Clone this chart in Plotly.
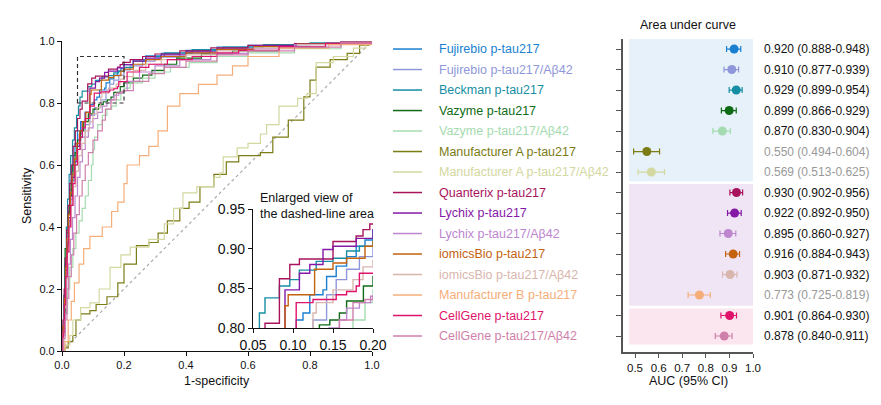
import plotly.graph_objects as go

# Assay names (legend / forest plot rows, top to bottom)
names = [
    "Fujirebio p-tau217", "Fujirebio p-tau217/Aβ42", "Beckman p-tau217",
    "Vazyme p-tau217", "Vazyme p-tau217/Aβ42", "Manufacturer A p-tau217",
    "Manufacturer A p-tau217/Aβ42", "Quanterix p-tau217", "Lychix p-tau217",
    "Lychix p-tau217/Aβ42", "iomicsBio p-tau217", "iomicsBio p-tau217/Aβ42",
    "Manufacturer B p-tau217", "CellGene p-tau217", "CellGene p-tau217/Aβ42",
]
colors = [
    "#1a7fd0", "#8f97da", "#168ea3", "#0f6b16", "#a5dbb0", "#7c7c14",
    "#d3d8a0", "#a8145c", "#8518a6", "#bd86cf", "#c4620f", "#d9b6ad",
    "#f5ae7a", "#e0136c", "#cf7fab",
]

# AUC with 95% CI
auc = [0.920, 0.910, 0.929, 0.899, 0.870, 0.550, 0.569, 0.930, 0.922, 0.895, 0.916, 0.903, 0.773, 0.901, 0.878]
auc_lo = [0.888, 0.877, 0.899, 0.866, 0.830, 0.494, 0.513, 0.902, 0.892, 0.860, 0.884, 0.871, 0.725, 0.864, 0.840]
auc_hi = [0.948, 0.939, 0.954, 0.929, 0.904, 0.604, 0.625, 0.956, 0.950, 0.927, 0.943, 0.932, 0.819, 0.930, 0.911]
auc_gray = [False, False, False, False, False, True, True, False, False, False, False, False, True, False, False]

# ROC curves (1-specificity, sensitivity)
fuji_fpr = [0, 0.003, 0.006, 0.01, 0.015, 0.02, 0.025, 0.03, 0.035, 0.042, 0.05, 0.06, 0.075, 0.09, 0.104, 0.1125, 0.121, 0.1375, 0.142, 0.154, 0.167, 0.179, 0.19, 0.2, 0.23, 0.27, 0.32, 0.4, 0.5, 0.6, 0.75, 0.9, 1.0]
fuji_tpr = [0, 0.07, 0.17, 0.28, 0.37, 0.45, 0.52, 0.58, 0.63, 0.67, 0.71, 0.74, 0.77, 0.795, 0.81, 0.819, 0.842, 0.848, 0.865, 0.878, 0.89, 0.903, 0.911, 0.924, 0.94, 0.952, 0.96, 0.97, 0.98, 0.986, 0.992, 0.997, 1.0]

fujir_fpr = [0, 0.004, 0.008, 0.012, 0.017, 0.022, 0.028, 0.035, 0.042, 0.05, 0.06, 0.075, 0.09, 0.105, 0.125, 0.142, 0.154, 0.167, 0.183, 0.2, 0.22, 0.26, 0.3, 0.38, 0.48, 0.6, 0.75, 0.9, 1.0]
fujir_tpr = [0, 0.06, 0.15, 0.25, 0.34, 0.42, 0.49, 0.55, 0.6, 0.65, 0.69, 0.73, 0.76, 0.785, 0.81, 0.842, 0.861, 0.874, 0.89, 0.907, 0.92, 0.935, 0.948, 0.96, 0.972, 0.982, 0.99, 0.996, 1.0]

beck_fpr = [0, 0.003, 0.006, 0.01, 0.014, 0.018, 0.023, 0.028, 0.034, 0.04, 0.047, 0.053, 0.058, 0.065, 0.083, 0.096, 0.108, 0.129, 0.15, 0.167, 0.183, 0.2, 0.23, 0.27, 0.33, 0.42, 0.52, 0.65, 0.8, 0.92, 1.0]
beck_tpr = [0, 0.08, 0.18, 0.3, 0.4, 0.49, 0.57, 0.63, 0.68, 0.72, 0.76, 0.79, 0.819, 0.838, 0.853, 0.861, 0.873, 0.884, 0.888, 0.897, 0.903, 0.915, 0.935, 0.95, 0.962, 0.972, 0.98, 0.988, 0.994, 0.998, 1.0]

vaz_fpr = [0, 0.005, 0.01, 0.015, 0.02, 0.025, 0.03, 0.035, 0.042, 0.05, 0.06, 0.07, 0.085, 0.1, 0.118, 0.133, 0.146, 0.158, 0.167, 0.188, 0.2, 0.23, 0.26, 0.29, 0.33, 0.37, 0.45, 0.55, 0.7, 0.85, 1.0]
vaz_tpr = [0, 0.05, 0.33, 0.38, 0.44, 0.5, 0.55, 0.6, 0.64, 0.68, 0.71, 0.74, 0.765, 0.78, 0.795, 0.804, 0.81, 0.819, 0.834, 0.853, 0.865, 0.88, 0.89, 0.905, 0.925, 0.945, 0.958, 0.968, 0.978, 0.99, 1.0]

vazr_fpr = [0, 0.005, 0.01, 0.018, 0.025, 0.035, 0.045, 0.055, 0.065, 0.075, 0.085, 0.095, 0.1, 0.105, 0.115, 0.13, 0.145, 0.16, 0.175, 0.19, 0.2, 0.22, 0.26, 0.3, 0.35, 0.41, 0.5, 0.6, 0.75, 0.9, 1.0]
vazr_tpr = [0, 0.05, 0.12, 0.2, 0.27, 0.33, 0.38, 0.42, 0.46, 0.5, 0.55, 0.6, 0.65, 0.69, 0.73, 0.76, 0.78, 0.79, 0.81, 0.832, 0.848, 0.865, 0.88, 0.9, 0.915, 0.93, 0.95, 0.962, 0.975, 0.99, 1.0]

mfa_fpr = [0, 0.01, 0.02, 0.035, 0.045, 0.06, 0.09, 0.11, 0.145, 0.18, 0.2, 0.24, 0.28, 0.31, 0.34, 0.38, 0.41, 0.445, 0.49, 0.53, 0.57, 0.64, 0.68, 0.73, 0.78, 0.8, 0.82, 0.865, 0.92, 0.96, 0.99, 1.0]
mfa_tpr = [0, 0.01, 0.03, 0.05, 0.1, 0.12, 0.13, 0.15, 0.175, 0.22, 0.28, 0.34, 0.35, 0.38, 0.42, 0.46, 0.48, 0.53, 0.57, 0.61, 0.63, 0.64, 0.69, 0.745, 0.82, 0.874, 0.916, 0.94, 0.96, 0.987, 0.997, 1.0]

mfar_fpr = [0, 0.01, 0.025, 0.035, 0.06, 0.09, 0.12, 0.155, 0.19, 0.22, 0.28, 0.33, 0.36, 0.39, 0.435, 0.49, 0.51, 0.52, 0.565, 0.6, 0.64, 0.66, 0.7, 0.76, 0.79, 0.82, 0.875, 0.94, 0.98, 1.0]
mfar_tpr = [0, 0.02, 0.05, 0.1, 0.14, 0.155, 0.2, 0.27, 0.31, 0.335, 0.36, 0.41, 0.46, 0.51, 0.53, 0.56, 0.575, 0.626, 0.655, 0.67, 0.7, 0.73, 0.79, 0.815, 0.83, 0.93, 0.95, 0.977, 0.997, 1.0]

quan_fpr = [0, 0.003, 0.007, 0.011, 0.015, 0.02, 0.025, 0.03, 0.036, 0.043, 0.05, 0.058, 0.065, 0.083, 0.096, 0.108, 0.15, 0.179, 0.1875, 0.196, 0.22, 0.26, 0.3, 0.38, 0.48, 0.6, 0.75, 0.9, 1.0]
quan_tpr = [0, 0.1, 0.2, 0.3, 0.39, 0.47, 0.54, 0.6, 0.66, 0.71, 0.75, 0.78, 0.806, 0.862, 0.88, 0.887, 0.909, 0.916, 0.924, 0.931, 0.94, 0.95, 0.958, 0.968, 0.978, 0.986, 0.992, 0.997, 1.0]

lyc_fpr = [0, 0.004, 0.008, 0.012, 0.017, 0.022, 0.028, 0.034, 0.04, 0.048, 0.056, 0.065, 0.075, 0.09, 0.108, 0.121, 0.1375, 0.15, 0.179, 0.2, 0.23, 0.27, 0.32, 0.4, 0.5, 0.62, 0.76, 0.9, 1.0]
lyc_tpr = [0, 0.07, 0.16, 0.26, 0.35, 0.43, 0.5, 0.56, 0.61, 0.66, 0.7, 0.74, 0.77, 0.848, 0.869, 0.88, 0.899, 0.903, 0.913, 0.924, 0.935, 0.945, 0.955, 0.965, 0.975, 0.984, 0.991, 0.997, 1.0]

lycr_fpr = [0, 0.005, 0.01, 0.015, 0.02, 0.027, 0.034, 0.042, 0.05, 0.058, 0.066, 0.075, 0.085, 0.1, 0.115, 0.13, 0.145, 0.158, 0.167, 0.183, 0.197, 0.21, 0.25, 0.3, 0.38, 0.48, 0.6, 0.75, 0.9, 1.0]
lycr_tpr = [0, 0.05, 0.12, 0.2, 0.28, 0.36, 0.43, 0.5, 0.56, 0.61, 0.65, 0.69, 0.72, 0.75, 0.77, 0.79, 0.8, 0.81, 0.825, 0.832, 0.84, 0.87, 0.9, 0.92, 0.94, 0.96, 0.975, 0.988, 0.996, 1.0]

iom_fpr = [0, 0.004, 0.008, 0.012, 0.016, 0.021, 0.027, 0.033, 0.04, 0.048, 0.057, 0.066, 0.077, 0.09, 0.094, 0.127, 0.15, 0.167, 0.19, 0.2, 0.23, 0.27, 0.32, 0.4, 0.5, 0.62, 0.76, 0.9, 1.0]
iom_tpr = [0, 0.08, 0.17, 0.27, 0.36, 0.44, 0.51, 0.57, 0.62, 0.67, 0.71, 0.74, 0.77, 0.828, 0.842, 0.874, 0.882, 0.888, 0.903, 0.909, 0.925, 0.94, 0.95, 0.962, 0.973, 0.982, 0.99, 0.996, 1.0]

iomr_fpr = [0, 0.004, 0.008, 0.013, 0.018, 0.024, 0.03, 0.037, 0.045, 0.054, 0.064, 0.075, 0.088, 0.1, 0.113, 0.125, 0.129, 0.15, 0.175, 0.1875, 0.2, 0.23, 0.27, 0.32, 0.4, 0.5, 0.62, 0.76, 0.9, 1.0]
iomr_tpr = [0, 0.06, 0.14, 0.23, 0.32, 0.4, 0.47, 0.53, 0.58, 0.63, 0.67, 0.71, 0.74, 0.765, 0.785, 0.819, 0.832, 0.848, 0.861, 0.877, 0.885, 0.905, 0.925, 0.94, 0.955, 0.968, 0.978, 0.988, 0.996, 1.0]

mfb_fpr = [0, 0.01, 0.02, 0.03, 0.04, 0.055, 0.07, 0.09, 0.13, 0.16, 0.18, 0.2, 0.21, 0.25, 0.28, 0.31, 0.34, 0.38, 0.44, 0.5, 0.55, 0.6, 0.7, 0.86, 1.0]
mfb_tpr = [0, 0.03, 0.1, 0.16, 0.22, 0.28, 0.33, 0.37, 0.4, 0.45, 0.48, 0.54, 0.6, 0.63, 0.66, 0.71, 0.79, 0.83, 0.86, 0.89, 0.92, 0.95, 0.977, 0.988, 1.0]

cell_fpr = [0, 0.004, 0.008, 0.012, 0.017, 0.022, 0.028, 0.035, 0.042, 0.05, 0.058, 0.066, 0.075, 0.09, 0.104, 0.125, 0.154, 0.167, 0.179, 0.183, 0.21, 0.25, 0.28, 0.34, 0.42, 0.5, 0.57, 0.7, 0.85, 1.0]
cell_tpr = [0, 0.06, 0.15, 0.24, 0.32, 0.4, 0.47, 0.54, 0.6, 0.65, 0.69, 0.72, 0.75, 0.79, 0.832, 0.836, 0.842, 0.846, 0.853, 0.869, 0.9, 0.915, 0.925, 0.94, 0.95, 0.962, 0.97, 0.982, 0.993, 1.0]

cellr_fpr = [0, 0.005, 0.01, 0.016, 0.022, 0.03, 0.038, 0.047, 0.056, 0.065, 0.075, 0.085, 0.1, 0.115, 0.13, 0.14, 0.158, 0.175, 0.19, 0.2, 0.23, 0.28, 0.33, 0.4, 0.5, 0.6, 0.75, 0.9, 1.0]
cellr_tpr = [0, 0.04, 0.1, 0.17, 0.24, 0.31, 0.38, 0.44, 0.5, 0.55, 0.6, 0.64, 0.68, 0.71, 0.745, 0.78, 0.81, 0.832, 0.836, 0.84, 0.87, 0.895, 0.915, 0.935, 0.955, 0.968, 0.98, 0.993, 1.0]

roc_fpr = [fuji_fpr, fujir_fpr, beck_fpr, vaz_fpr, vazr_fpr, mfa_fpr, mfar_fpr, quan_fpr,
           lyc_fpr, lycr_fpr, iom_fpr, iomr_fpr, mfb_fpr, cell_fpr, cellr_fpr]
roc_tpr = [fuji_tpr, fujir_tpr, beck_tpr, vaz_tpr, vazr_tpr, mfa_tpr, mfar_tpr, quan_tpr,
           lyc_tpr, lycr_tpr, iom_tpr, iomr_tpr, mfb_tpr, cell_tpr, cellr_tpr]

chance = [0, 1]
main_ticks = [0.0, 0.2, 0.4, 0.6, 0.8, 1.0]
inset_xticks = [0.05, 0.10, 0.15, 0.20]
inset_yticks = [0.80, 0.85, 0.90, 0.95]
auc_ticks = [0.5, 0.6, 0.7, 0.8, 0.9, 1.0]

# the page body has an 8px margin, so lay out in window pixels minus that
OFF = 8
W, H = 881 - OFF, 405 - OFF
FONT = "Liberation Sans, Arial, sans-serif"


def px(x):
    return (x - OFF) / W


def py(y):
    return 1 - (y - OFF) / H


fig = go.Figure()

# chance line
fig.add_trace(go.Scatter(x=chance, y=chance, mode="lines",
                         line=dict(color="#aaaaaa", width=1.2, dash="3px,3px"),
                         xaxis="x", yaxis="y", showlegend=False, hoverinfo="skip"))

for i, n in enumerate(names):
    # main ROC
    fig.add_trace(go.Scatter(x=roc_fpr[i], y=roc_tpr[i], mode="lines", name=n,
                             line=dict(color=colors[i], width=1.2, shape="hv"),
                             xaxis="x", yaxis="y", showlegend=False))
    # inset
    fig.add_trace(go.Scatter(x=roc_fpr[i], y=roc_tpr[i], mode="lines", name=n,
                             line=dict(color=colors[i], width=1.4, shape="hv"),
                             xaxis="x2", yaxis="y2", showlegend=False))
    # forest point
    fig.add_trace(go.Scatter(
        x=[auc[i]], y=[n], mode="markers",
        marker=dict(color=colors[i], size=9),
        error_x=dict(type="data", symmetric=False,
                     array=[auc_hi[i] - auc[i]], arrayminus=[auc[i] - auc_lo[i]],
                     color=colors[i], thickness=1.2, width=3),
        xaxis="x3", yaxis="y3", showlegend=False))
    # legend line sample
    fig.add_trace(go.Scatter(x=[0, 1], y=[n, n], mode="lines",
                             line=dict(color=colors[i], width=1.5),
                             xaxis="x4", yaxis="y3", showlegend=False, hoverinfo="skip"))

annotations = []
for i, n in enumerate(names):
    annotations.append(dict(x=px(437), xref="paper", y=n, yref="y3", text=n,
                            showarrow=False, xanchor="left", yanchor="middle",
                            font=dict(size=12.5, color=colors[i], family=FONT)))
    annotations.append(dict(x=px(762), xref="paper", y=n, yref="y3",
                            text=f"{auc[i]:.3f} ({auc_lo[i]:.3f}-{auc_hi[i]:.3f})",
                            showarrow=False, xanchor="left", yanchor="middle",
                            font=dict(size=12, color="#999999" if auc_gray[i] else "#111111",
                                      family=FONT)))

annotations += [
    dict(x=px(27), y=py(196), xref="paper", yref="paper", text="Sensitivity",
         textangle=-90, showarrow=False, xanchor="center", yanchor="middle",
         font=dict(size=12.5, color="#111", family=FONT)),
    dict(x=px(217), y=py(381), xref="paper", yref="paper", text="1-specificity",
         showarrow=False, xanchor="center", yanchor="middle",
         font=dict(size=12.5, color="#111", family=FONT)),
    dict(x=px(688), y=py(381), xref="paper", yref="paper", text="AUC (95% CI)",
         showarrow=False, xanchor="center", yanchor="middle",
         font=dict(size=12.5, color="#111", family=FONT)),
    dict(x=px(688), y=py(25), xref="paper", yref="paper", text="Area under curve",
         showarrow=False, xanchor="center", yanchor="middle",
         font=dict(size=12.5, color="#111", family=FONT)),
    dict(x=px(258), y=py(206), xref="paper", yref="paper",
         text="Enlarged view of<br>the dashed-line area", align="left",
         xanchor="left", yanchor="middle", showarrow=False,
         font=dict(size=12.5, color="#111", family=FONT)),
]

shapes = [
    dict(type="rect", xref="x", yref="y", x0=0.05, x1=0.2, y0=0.8, y1=0.95,
         line=dict(color="#333333", width=1.2, dash="4px,3px")),
    dict(type="rect", xref="x3", yref="y3", x0=0.475, x1=1.0, y0=-0.49, y1=6.45,
         fillcolor="#e6f1f9", line=dict(width=0), layer="below"),
    dict(type="rect", xref="x3", yref="y3", x0=0.475, x1=1.0, y0=6.58, y1=12.52,
         fillcolor="#f0e5f4", line=dict(width=0), layer="below"),
    dict(type="rect", xref="x3", yref="y3", x0=0.475, x1=1.0, y0=12.66, y1=14.42,
         fillcolor="#fbe5ee", line=dict(width=0), layer="below"),
]

axis_common = dict(showgrid=False, zeroline=False, ticks="outside", ticklen=4,
                   showline=True, linecolor="#111", linewidth=1.2, tickcolor="#111",
                   automargin=False)

fig.update_layout(
    template="none",
    width=W, height=H, autosize=False,
    margin=dict(l=0, r=0, t=0, b=0, pad=0),
    paper_bgcolor="white", plot_bgcolor="rgba(0,0,0,0)",
    font=dict(family=FONT, size=11, color="#111"),
    showlegend=False,
    xaxis=dict(domain=[px(62), px(372)], range=[0, 1], tickvals=main_ticks,
               tickformat=".1f", anchor="y", tickfont=dict(size=11), **axis_common),
    yaxis=dict(domain=[py(351), py(41)], range=[0, 1], tickvals=main_ticks,
               tickformat=".1f", anchor="x", tickfont=dict(size=11), **axis_common),
    xaxis2=dict(domain=[px(253), px(373)], range=[0.05, 0.2], tickvals=inset_xticks,
                tickformat=".2f", anchor="y2", tickfont=dict(size=14), **axis_common),
    yaxis2=dict(domain=[py(328), py(209)], range=[0.8, 0.95], tickvals=inset_yticks,
                tickformat=".2f", anchor="x2", tickfont=dict(size=14), **axis_common),
    xaxis3=dict(domain=[px(623), px(753)], range=[0.449, 1.0], tickvals=auc_ticks,
                tickformat=".1f", anchor="y3", tickfont=dict(size=11.5),
                showgrid=False, zeroline=False, ticks="outside", ticklen=4,
                showline=True, linecolor="#555", linewidth=1.5, tickcolor="#555",
                automargin=False),
    yaxis3=dict(domain=[py(352), py(39)], type="category", categoryorder="array",
                categoryarray=names, range=[14.78, -0.49], anchor="x3",
                showticklabels=False, showgrid=False, zeroline=False,
                ticks="outside", ticklen=5, showline=True, linecolor="#555",
                linewidth=2, tickcolor="#555", automargin=False),
    xaxis4=dict(domain=[px(393), px(422)], range=[0, 1], anchor="y3", visible=False),
    annotations=annotations,
    shapes=shapes,
)

fig.write_html("out.html")
